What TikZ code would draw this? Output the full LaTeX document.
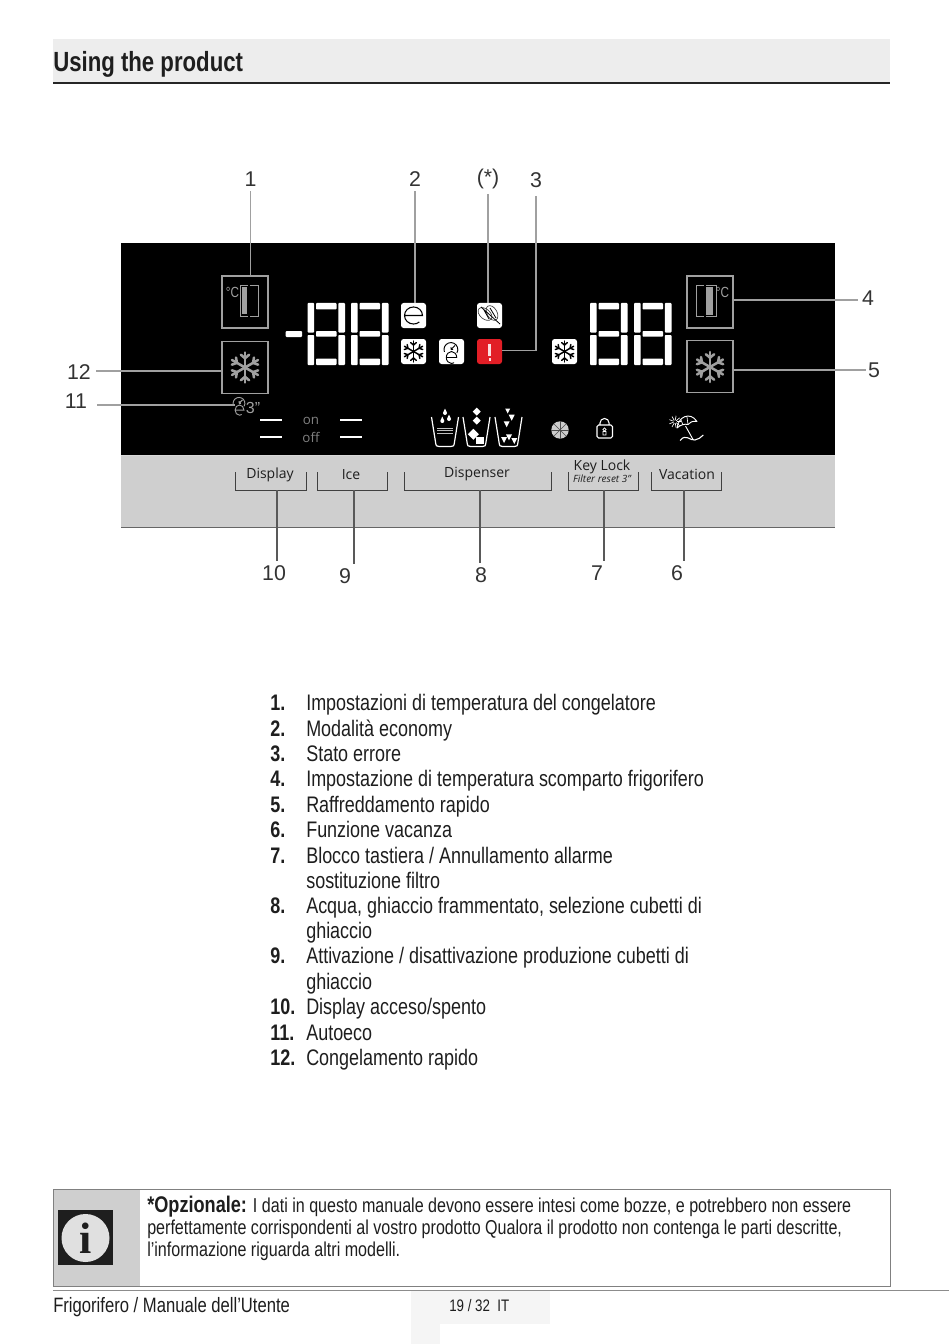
\documentclass[tikz,border=0pt]{standalone}
\usepackage{fontspec}
\setmainfont[FakeStretch=0.8]{Liberation Sans}
\newfontfamily\panelfont{Open Sans}
\newfontfamily\plainfont{Liberation Sans}
\newfontfamily\serifbold{Liberation Serif}
\definecolor{barback}{HTML}{EDEDED}
\definecolor{panelgrey}{HTML}{CFCFCF}
\definecolor{leadgrey}{HTML}{A0A0A0}
\definecolor{errorred}{HTML}{E21E26}
\definecolor{patchgrey}{HTML}{F5F5F5}
\definecolor{inktext}{HTML}{1E1E1E}

\tikzstyle{leader} = [draw=leadgrey, line width=1pt]
\tikzstyle{lowleader} = [draw=black!65, line width=0.9pt]
\tikzstyle{bracket} = [draw=black!75, line width=0.7pt]
\tikzstyle{callout} = [text=black!80, inner sep=1pt, font=\plainfont\fontsize{16}{16}\selectfont]
\tikzstyle{panelbox} = [draw=leadgrey, line width=0.8pt, minimum width=34.5pt, minimum height=39pt, inner sep=0pt]
\tikzstyle{iconbtn} = [fill=white, rounded corners=2pt, minimum width=18.75pt, minimum height=18.75pt, inner sep=0pt]
\tikzstyle{keylabel} = [text=inktext, inner sep=0pt, font=\panelfont\fontsize{10.5}{10.5}\selectfont]
\tikzstyle{itemnum} = [anchor=base west, inner sep=0pt, text=inktext, font=\fontsize{16.85}{16.85}\selectfont\bfseries]
\tikzstyle{itemtxt} = [anchor=base west, inner sep=0pt, text=inktext, font=\fontsize{16.85}{16.85}\selectfont]
\tikzstyle{notetxt} = [anchor=base west, inner sep=0pt, text=inktext, font=\fontsize{15.08}{15.08}\selectfont]
\tikzstyle{segment} = [fill=white, rounded corners=0.6pt]

% seven segment digit, origin is its top left corner
\newcommand{\bigdigit}[2]{
  \foreach \xa/\ya/\xb/\yb in {0/0/6.7/29.5, 0/32/6.7/62, 30.8/0/37.5/29.5, 30.8/32/37.5/62, 8.5/0/29/6.5, 8.5/28/29/33.7, 8.5/55.5/29/62}
    \fill[segment] (#1+\xa,#2+\ya) rectangle (#1+\xb,#2+\yb);
}
% snowflake: centre x, centre y, radius, colour, width
\newcommand{\flake}[5]{
  \begin{scope}[shift={(#1,#2)}, draw=#4, line width=#5, line cap=round]
    \foreach \ang in {30,90,...,330} {
      \draw (0,0) -- (\ang:#3);
      \draw (\ang:0.62*#3) -- ++(\ang+50:0.36*#3);
      \draw (\ang:0.62*#3) -- ++(\ang-50:0.36*#3);
    }
  \end{scope}
}
% clock over an e: centre x, centre y, colour, scale
\newcommand{\autoecomark}[4]{
  \begin{scope}[shift={(#1,#2)}, scale=#4, draw=#3, line width=0.7pt]
    \draw (-7.1,0.4) arc (200:-30:5.2pt and 5.2pt);
    \draw (-0.5,-2) -- (3.5,-6) (-0.5,-2) -- (-0.5,-4.5) (-0.5,-2) -- (1.7,-2);
    \draw (-5.2,6) -- (5.2,6) arc (0:300:3.9pt and 4.5pt);
  \end{scope}
}
% beaker outline at left x
\newcommand{\beaker}[1]{
  \draw[white, line width=0.9pt, line join=round] (#1,417) -- (#1+4,442) .. controls (#1+4.5,446) and (#1+5,446.5) .. (#1+7.5,446.5) -- (#1+19.5,446.5) .. controls (#1+22,446.5) and (#1+22.5,446) .. (#1+23,442) -- (#1+27,417);
}

\begin{document}
\begin{tikzpicture}[x=0.75pt, y=-0.75pt]
\useasboundingbox (0,0) rectangle (950,1344);
%begin header
\fill[barback] (53,39) rectangle (890,82);
\draw[black!85, line width=1.5pt] (53,83) -- (890,83);
\node[anchor=base west, inner sep=0pt, text=inktext, font=\fontsize{20.8}{20.8}\selectfont\bfseries] (title) at (53,72) {Using the product};
%end header

%begin panel
\fill[black] (121,243) rectangle (835,455);
\fill[panelgrey] (121,455) rectangle (835,527);
\draw[black!60, line width=0.7pt] (121,527) -- (835,527);
\draw[black!15, line width=0.7pt] (121,455.5) -- (835,455.5);
%end panel

%begin boxes
\node[panelbox] (freezerbox) at (245,302) {};
\node[panelbox] (quickfreezebox) at (245,367.5) {};
\node[panelbox] (fridgebox) at (710,302) {};
\node[panelbox] (quickcoolbox) at (710,366.5) {};
\node[text=leadgrey, inner sep=0pt, font=\fontsize{11}{11}\selectfont] (freezerdeg) at (232.5,292) {°C};
\node[text=leadgrey, inner sep=0pt, font=\fontsize{11}{11}\selectfont] (fridgedeg) at (722.5,292) {°C};
\draw[leadgrey, line width=0.5pt] (248,285.5) -- (240,285.5) -- (240,316) -- (248,316) (250,285.5) -- (258,285.5) -- (258,316) -- (250,316);
\fill[leadgrey] (242.3,287) rectangle (247.3,314);
\draw[leadgrey, line width=0.5pt] (704,285.5) -- (696,285.5) -- (696,316) -- (704,316) (706,285.5) -- (716,285.5) -- (716,316) -- (706,316);
\fill[leadgrey] (705.7,287) rectangle (713.3,315);
\flake{245}{367.5}{15}{leadgrey}{1.9pt}
\flake{710}{367}{15}{leadgrey}{1.9pt}
%end boxes

%begin digits
\fill[segment] (285.7,331) rectangle (302,337);
\bigdigit{307.5}{303}
\bigdigit{351}{303}
\bigdigit{590}{303}
\bigdigit{634}{303}
%end digits

%begin buttons
\node[iconbtn] (ecobtn) at (413.5,315.5) {};
\node[iconbtn] (freezebtn) at (413.5,351.5) {};
\node[iconbtn] (autoecobtn) at (451.5,351.5) {};
\node[iconbtn] (leafbtn) at (489.5,315.5) {};
\node[iconbtn, fill=errorred] (errorbtn) at (489.5,351.5) {};
\node[iconbtn] (coolbtn) at (564.5,351.5) {};
\draw[black, line width=0.8pt] (404.5,315.5) -- (422.5,315.5) arc (0:310:6.75pt and 6.4pt);
\flake{413.5}{351.5}{10.5}{black}{1.1pt}
\flake{564.5}{351.5}{10.5}{black}{1.1pt}
\autoecomark{451.5}{351.5}{black}{1}
\draw[black!75, line width=0.5pt, rotate around={-40:(485,314)}] (485,314) ellipse (8 and 5);
\draw[black!75, line width=0.5pt, rotate around={-60:(492,313)}] (492,313) ellipse (8 and 5);
\draw[black, line width=0.6pt] (481,307) -- (500,324) (484,310) -- (489,319) (490,308) -- (496,318);
\draw[white!85!errorred, line width=1.6pt] (489.5,344) -- (489.5,356);
\fill[white!85!errorred] (488.5,358) rectangle (490.5,360.5);
%end buttons

%begin indicators
\autoecomark{239.5}{405}{leadgrey}{0.85}
\node[text=leadgrey, inner sep=0pt, font=\plainfont\fontsize{12}{12}\selectfont] (timer) at (253,408) {3”};
\foreach \xa/\xb in {260/282, 340/362}
  \foreach \yy in {420,437}
    \draw[white, line width=1.6pt] (\xa,\yy) -- (\xb,\yy);
\node[text=black!50, inner sep=0pt, font=\panelfont\fontsize{10}{10}\selectfont] (onlabel) at (311,421) {on};
\node[text=black!50, inner sep=0pt, font=\panelfont\fontsize{10}{10}\selectfont] (offlabel) at (311,437) {off};
%end indicators

%begin beakers
\beaker{431.5}
\beaker{463}
\beaker{495}
\foreach \dx/\dy in {445/413, 442.3/421, 449/419}
  \fill[white] (\dx,\dy) circle (2) (\dx-1.7,\dy-0.8) -- (\dx,\dy-4.5) -- (\dx+1.7,\dy-0.8) -- cycle;
\foreach \yy in {428,430.5,433}
  \draw[black!25, line width=0.7pt] (437,\yy) -- (453,\yy);
\foreach \dx/\dy/\ds in {476.7/411.7/4, 476.7/420.7/4, 473.3/434.3/5.5}
  \fill[white] (\dx,\dy-\ds) -- (\dx+\ds,\dy) -- (\dx,\dy+\ds) -- (\dx-\ds,\dy) -- cycle;
\fill[white] (475.7,436.7) rectangle (484.3,444.3);
\foreach \dx/\dy/\ds in {507.7/411/2.5, 511.7/417.7/3, 506.7/424.3/3, 504/440/3, 509/437.3/3, 514.3/441/3}
  \fill[white] (\dx-\ds,\dy-\ds) -- (\dx+\ds,\dy-\ds) -- (\dx,\dy+\ds) -- cycle;
%end beakers

%begin small icons
\fill[black!20] (560,430) circle (8.7);
\foreach \ang in {0,45,...,135}
  \draw[black!70, line width=0.5pt] (\ang:-8.7) ++(560,430) -- ++(\ang:17.4);
\draw[white, line width=0.8pt, rounded corners=1.2pt] (597,425) rectangle (612.5,438);
\draw[white, line width=0.8pt] (600,425) -- (600,423) arc (180:0:3.4pt and 3.4pt) -- (609,425);
\draw[white, line width=0.6pt] (604.5,429.5) circle (1.6) (603,431.5) rectangle (606,435);
%umbrella
\draw[white, line width=0.7pt, line join=round] (677,428) .. controls (678,417) and (690,411) .. (697,421.5) .. controls (692,421) and (690,422) .. (688,424.5) .. controls (685,423.5) and (680,425) .. (677,428) -- cycle;
\draw[white, line width=0.5pt] (688,424.5) -- (687,417) (683,425) -- (681,420);
\draw[white, line width=0.7pt] (685.5,426) -- (693.3,440);
\draw[white, line width=0.8pt] (680,440.5) .. controls (686,433) and (690,441) .. (695,440) .. controls (698,439.5) and (701,437.5) .. (703.3,435);
\foreach \ang in {0,40,...,320}
  \draw[white, line width=0.5pt] (675,421.7) ++(\ang:1.5) -- ++(\ang:4.5);
%end small icons

%begin keys
\coordinate (displaykey) at (277,490);
\coordinate (icekey) at (354,490);
\coordinate (dispenserkey) at (480,490);
\coordinate (lockkey) at (604,490);
\coordinate (vacationkey) at (684,490);
\foreach \xa/\xb in {235/306, 317/387, 404/551, 568/638, 651/721}
  \draw[bracket] (\xa,472) -- (\xa,490) -- (\xb,490) -- (\xb,472);
\node[keylabel] (displaytxt) at (270,474.5) {Display};
\node[keylabel] (icetxt) at (351,475) {Ice};
\node[keylabel] (dispensertxt) at (477,474.5) {Dispenser};
\node[keylabel] (locktxt) at (602,467) {Key Lock};
\node[keylabel, font=\panelfont\itshape\fontsize{7.5}{7.5}\selectfont] (filtertxt) at (602,479) {Filter reset 3”};
\node[keylabel] (vacationtxt) at (687,474.5) {Vacation};
%end keys

%begin callouts
\node[callout] (lblA) at (250.5,179) {1};
\node[callout] (lblB) at (415,179) {2};
\node[callout] (lblstar) at (488,179) {(*)};
\node[callout] (lblC) at (536,180) {3};
\node[callout] (lblD) at (868,298) {4};
\node[callout] (lblE) at (874,370) {5};
\node[callout] (lblF) at (677,573) {6};
\node[callout] (lblG) at (597,573) {7};
\node[callout] (lblH) at (481,575) {8};
\node[callout] (lblI) at (345,576) {9};
\node[callout] (lblJ) at (274,573) {10};
\node[callout] (lblK) at (76,401) {11};
\node[callout] (lblL) at (79,372) {12};
\coordinate (autoecoend) at (97,405);
\coordinate (autoecotip) at (235,405);
\coordinate (errorbend) at (536,350.5);

\draw[leader, shorten <=2.5pt] (lblA.south) -- (lblA |- freezerbox.north);
\draw[leader, shorten <=2.5pt] (lblB.south) -- (lblB |- ecobtn.north);
\draw[leader, shorten <=2.5pt] (lblstar.south) -- (lblstar |- leafbtn.north);
\draw[leader, shorten <=5pt] (lblC.south) -- (errorbend) -- (errorbtn.east |- errorbend);
\draw[leader, shorten >=2pt] (fridgebox.east |- 0,300) -- (lblD.west |- 0,300);
\draw[leader] (quickcoolbox.east |- lblE) -- (lblE.west);
\draw[leader, shorten <=3pt] (lblL.east |- 0,371) -- (quickfreezebox.west |- 0,371);
\draw[leader] (autoecoend) -- (autoecotip);
\draw[lowleader, shorten >=2.5pt] (vacationkey) -- (vacationkey |- lblF.north);
\draw[lowleader, shorten >=2.5pt] (lockkey) -- (lockkey |- lblG.north);
\draw[lowleader, shorten >=2.5pt] (dispenserkey) -- (dispenserkey |- lblH.north);
\draw[lowleader, shorten >=2.5pt] (icekey) -- (icekey |- lblI.north);
\draw[lowleader, shorten >=2.5pt] (displaykey) -- (displaykey |- lblJ.north);
%end callouts

%begin list
\node[itemnum] (numA) at (270,710) {1.};
\node[itemtxt] (txtA) at (306,710) {Impostazioni di temperatura del congelatore};
\node[itemnum] (numB) at (270,736) {2.};
\node[itemtxt] (txtB) at (306,736) {Modalità economy};
\node[itemnum] (numC) at (270,761) {3.};
\node[itemtxt] (txtC) at (306,761) {Stato errore};
\node[itemnum] (numD) at (270,786) {4.};
\node[itemtxt] (txtD) at (306,786) {Impostazione di temperatura scomparto frigorifero};
\node[itemnum] (numE) at (270,812) {5.};
\node[itemtxt] (txtE) at (306,812) {Raffreddamento rapido};
\node[itemnum] (numF) at (270,837) {6.};
\node[itemtxt] (txtF) at (306,837) {Funzione vacanza};
\node[itemnum] (numG) at (270,863) {7.};
\node[itemtxt] (txtG) at (306,863) {Blocco tastiera / Annullamento allarme};
\node[itemtxt] (txtGb) at (306,888) {sostituzione filtro};
\node[itemnum] (numH) at (270,913) {8.};
\node[itemtxt] (txtH) at (306,913) {Acqua, ghiaccio frammentato, selezione cubetti di};
\node[itemtxt] (txtHb) at (306,938) {ghiaccio};
\node[itemnum] (numI) at (270,963) {9.};
\node[itemtxt] (txtI) at (306,963) {Attivazione / disattivazione produzione cubetti di};
\node[itemtxt] (txtIb) at (306,989) {ghiaccio};
\node[itemnum] (numJ) at (270,1014) {10.};
\node[itemtxt] (txtJ) at (306,1014) {Display acceso/spento};
\node[itemnum] (numK) at (270,1040) {11.};
\node[itemtxt] (txtK) at (306,1040) {Autoeco};
\node[itemnum] (numL) at (270,1065) {12.};
\node[itemtxt] (txtL) at (306,1065) {Congelamento rapido};
%end list

%begin note
\fill[panelgrey] (53,1189) rectangle (140,1286);
\draw[black!50, line width=0.7pt] (53,1189) rectangle (890,1286);
\fill[inktext] (58,1210) rectangle (113,1265);
\fill[black!12] (85.5,1238) circle (24);
\node[inner sep=0pt, text=inktext, font=\serifbold\bfseries\fontsize{33}{33}\selectfont] (infomark) at (85.5,1238) {i};
\node[notetxt] (noteA) at (147,1212) {{\fontsize{17}{17}\selectfont\bfseries *Opzionale:} I dati in questo manuale devono essere intesi come bozze, e potrebbero non essere};
\node[notetxt] (noteB) at (147,1234) {perfettamente corrispondenti al vostro prodotto Qualora il prodotto non contenga le parti descritte,};
\node[notetxt] (noteC) at (147,1256) {l'informazione riguarda altri modelli.};
%end note

%begin footer
\fill[patchgrey] (411,1291) rectangle (550,1324);
\fill[patchgrey] (411,1324) rectangle (440,1344);
\draw[black!45, line width=0.7pt] (53,1290.5) -- (949,1290.5);
\node[anchor=base west, inner sep=0pt, text=inktext, font=\fontsize{15.6}{15.6}\selectfont] (manualtxt) at (53,1312) {Frigorifero / Manuale dell’Utente};
\node[anchor=base west, inner sep=0pt, text=inktext, font=\fontsize{12.5}{12.5}\selectfont] (pagetxt) at (449,1311) {19 / 32\ \ IT};
%end footer
\end{tikzpicture}
\end{document}
